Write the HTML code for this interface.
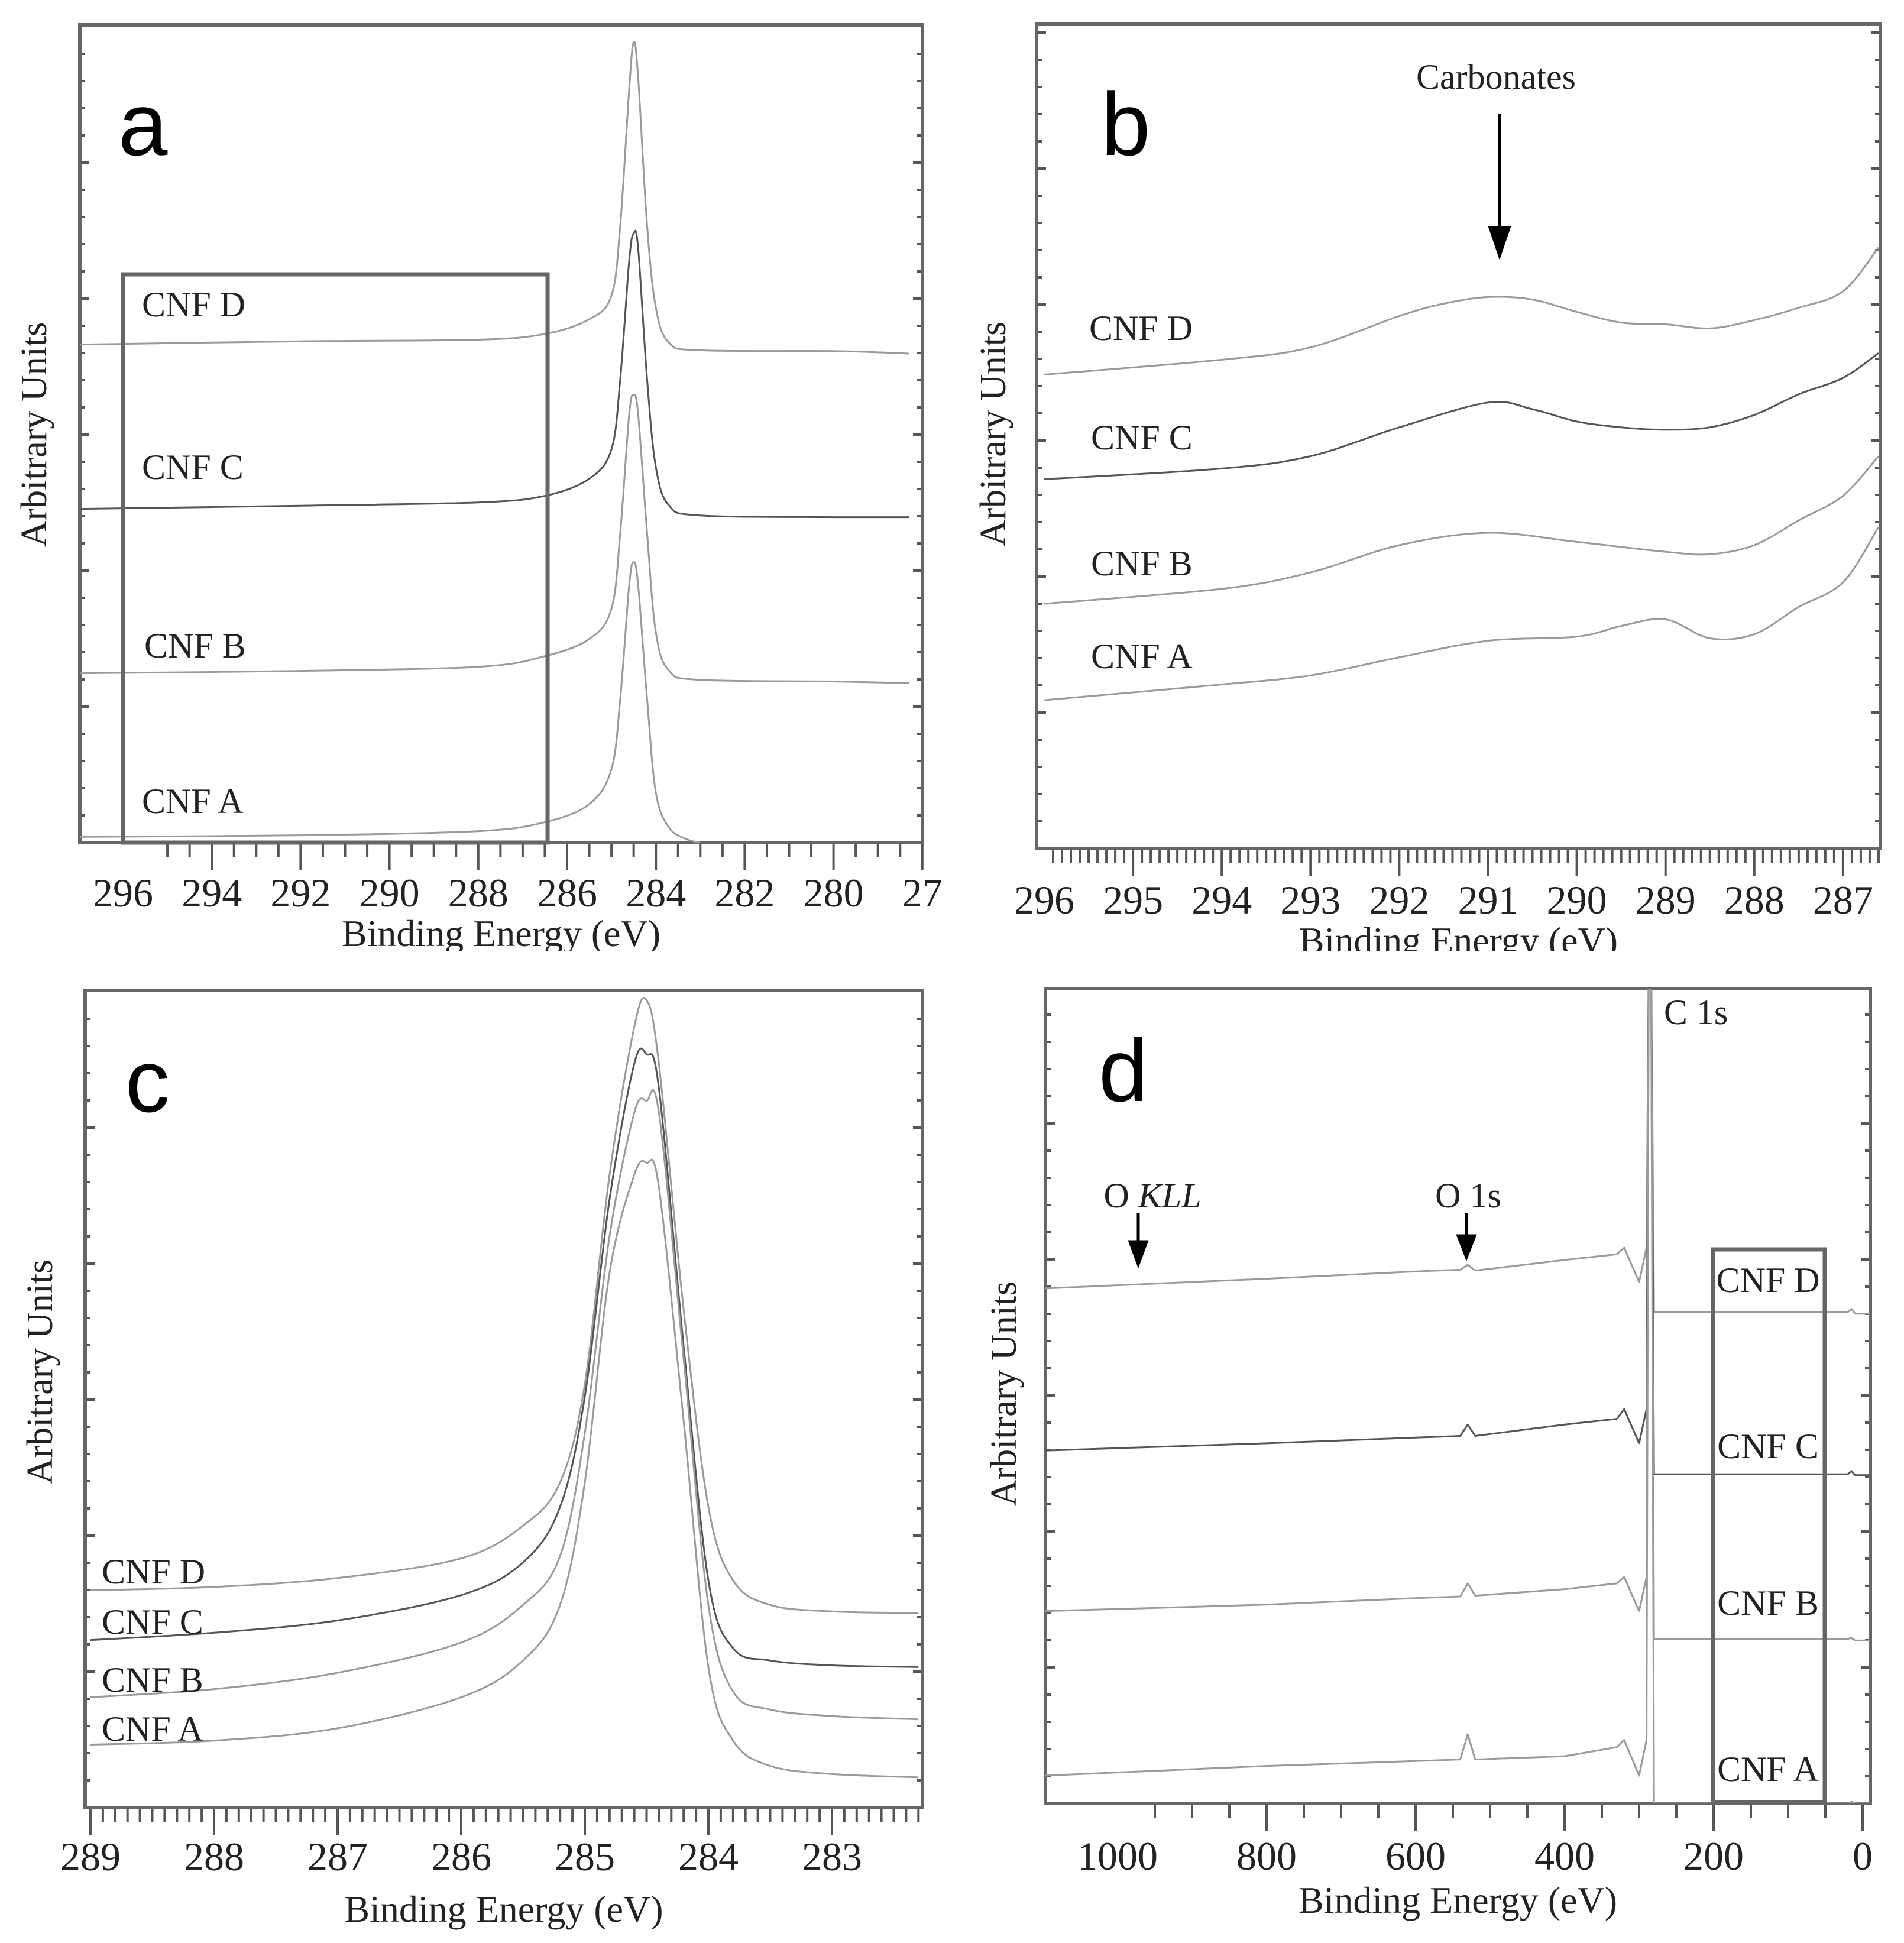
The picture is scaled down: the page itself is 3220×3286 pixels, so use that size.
<!DOCTYPE html>
<html><head><meta charset="utf-8"><style>
html,body{margin:0;padding:0;background:#fff;}
svg{display:block;}
text{font-family:"Liberation Serif",serif;fill:#222;}
.sans{font-family:"Liberation Sans",sans-serif;fill:#000;}
</style></head><body>
<svg id="fig" width="3220" height="3286" viewBox="0 0 3220 3286" xmlns="http://www.w3.org/2000/svg">
<defs>
<clipPath id="clipTop"><rect x="0" y="0" width="3220" height="1608"/></clipPath>
</defs>
<g id="root"></g>
</svg>
<script>
// ---------- Panel a data (C1s wide, arbitrary units 0-100) ----------
const aEnergiesD = [297,292,288,286.5,285.5,285,284.8,284.6,284.5,284.4,284.2,284,283.7,283,280,278.3];
const aValuesD = [60.9,61.3,61.5,62.2,64.0,66.9,75.6,92.2,97.9,93.6,75.6,65.4,61.1,60.2,60.1,59.8];
const aEnergiesC = [297,292,288,286.5,285.5,285,284.8,284.6,284.5,284.4,284.2,284,283.7,283,280,278.3];
const aValuesC = [40.8,41.2,41.6,42.4,44.5,48.1,56.8,71.2,74.5,72.7,56.8,45.9,41.2,40.0,39.8,39.8];
const aEnergiesB = [297,292,288,286.5,285.5,285,284.8,284.6,284.5,284.4,284.2,284,283.7,283,280,278.3];
const aValuesB = [20.7,21.0,21.5,22.8,24.9,28.6,38.0,52.4,54.7,52.4,38.0,25.7,21.0,19.9,19.7,19.5];
const aEnergiesA = [297,292,288,286.5,285.5,285,284.8,284.6,284.5,284.4,284.2,284,283.7,283.3,283];
const aValuesA = [0.7,0.9,1.4,2.5,4.7,9.0,17.7,31.5,34.3,31.5,17.7,6.1,1.8,0.4,0.0];
const aTickLabels = ["296","294","292","290","288","286","284","282","280","27"];
// ---------- Panel b data (carbonates region) ----------
const bEnergiesD = [296,294,293,292,291.5,291,290.5,290,289.5,289,288.5,288,287.5,287,286.6];
const bValuesD = [57.5,59.3,60.8,64.6,66.1,66.9,66.6,65.1,63.8,63.6,63.1,64.1,65.6,67.6,72.9];
const bEnergiesC = [296,294,293,292,291,290.5,290,289.5,289,288.5,288,287.5,287,286.6];
const bValuesC = [44.8,46.1,47.6,51.1,54.1,53.3,51.8,51.1,50.8,51.1,52.6,55.1,57.1,60.1];
const bEnergiesB = [296,294,293,292,291,290,289,288.5,288,287.5,287,286.6];
const bValuesB = [29.7,31.5,33.5,36.8,38.3,37.2,36.0,35.7,36.8,39.8,42.8,47.6];
const bEnergiesA = [296,294,293,292,291,290,289.5,289,288.5,288,287.5,287,286.6];
const bValuesA = [18.0,19.9,21.0,23.2,25.2,25.7,27.0,27.8,25.5,26.0,29.3,32.3,39.0];
const bTickLabels = ["296","295","294","293","292","291","290","289","288","287"];
// ---------- Panel c data (C1s zoom) ----------
const cEnergies = [289,288,287,286,285.5,285.2,285,284.8,284.6,284.5,284.4,284.2,284,283.8,283.5,283,282.3];
const cValuesD = [26.6,27.0,28.1,30.5,34.5,39.8,51.8,77.4,95.5,98.8,91.0,60.9,36.8,27.8,24.8,24.0,23.8];
const cValuesC = [20.5,21.4,22.9,26.0,30.0,36.8,50.3,74.4,91.0,92.2,88.0,56.4,27.8,19.5,18.0,17.4,17.2];
const cValuesB = [13.5,14.5,16.5,20.2,24.8,30.8,45.8,69.9,85.0,86.5,85.0,54.9,24.8,14.2,12.0,11.2,10.8];
const cValuesA = [7.7,8.2,9.7,13.5,18.0,24.8,39.8,65.4,77.4,78.9,75.9,47.3,17.2,8.2,5.1,4.1,3.7];
const cTickLabels = ["289","288","287","286","285","284","283"];
// ---------- Panel d data (survey) ----------
const dEnergies = [1100,800,600,540,530,520,400,330,320,300,290,287,284,280,20,15,10,-10];
const dValuesD = [63.2,64.4,65.3,65.5,66.1,65.4,66.7,67.4,68.2,64.0,68.2,105,105,60.3,60.3,60.7,60.1,60.1];
const dValuesC = [43.3,44.2,44.9,45.1,46.5,45.1,46.5,47.2,48.4,44.2,48.4,105,105,40.4,40.4,40.8,40.3,40.3];
const dValuesB = [23.6,24.4,25.2,25.4,27.0,25.5,26.3,27.0,27.8,23.6,27.8,105,105,20.2,20.2,20.3,20.0,20.0];
const dValuesA = [3.4,4.6,5.2,5.4,8.5,5.4,5.8,6.9,7.8,3.4,7.8,105,105,0.0,0.0,0.2,0.0,0.0];
const dTickLabels = ["1000","800","600","400","200","0"];

const NS = "http://www.w3.org/2000/svg";
const root = document.getElementById('root');
function el(tag, attrs, parent){
  const e = document.createElementNS(NS, tag);
  for (const k in attrs) e.setAttribute(k, attrs[k]);
  (parent||root).appendChild(e);
  return e;
}
function pathFrom(pts, smooth){
  if (!smooth) return pts.map((p,i)=>(i?'L':'M')+p[0].toFixed(1)+' '+p[1].toFixed(1)).join(' ');
  let d = 'M'+pts[0][0].toFixed(1)+' '+pts[0][1].toFixed(1);
  for (let i=0;i<pts.length-1;i++){
    const p0=pts[i-1]||pts[i], p1=pts[i], p2=pts[i+1], p3=pts[i+2]||p2;
    const t=0.5/3;
    const c1=[p1[0]+(p2[0]-p0[0])*t, p1[1]+(p2[1]-p0[1])*t];
    const c2=[p2[0]-(p3[0]-p1[0])*t, p2[1]-(p3[1]-p1[1])*t];
    d+=' C'+c1[0].toFixed(1)+' '+c1[1].toFixed(1)+' '+c2[0].toFixed(1)+' '+c2[1].toFixed(1)+' '+p2[0].toFixed(1)+' '+p2[1].toFixed(1);
  }
  return d;
}
function makePanel(cfg){
  const g = el('g', cfg.clip ? {'clip-path':'url(#clipTop)'} : {});
  
  
  const xs = e => cfg.x0 + (cfg.e0 - e) * cfg.ppe;
  const ys = v => cfg.bottom - v / 100 * (cfg.bottom - cfg.top);
  const cp = el('clipPath', {id:'plot-' + cfg.id}, g);
  el('rect', {x:cfg.left, y:cfg.top, width:cfg.right-cfg.left, height:cfg.bottom-cfg.top}, cp);
  const yt = el('g', {stroke:'#555','stroke-width':4}, g);
  
  
  for (let k = 1; cfg.bottom - k*46 > cfg.top + 5; k++){
    const y = cfg.bottom - k*46, len = (k % 5 === 0) ? 16 : 9;
    el('line', {x1:cfg.left, x2:cfg.left+len, y1:y, y2:y}, yt);
    el('line', {x1:cfg.right, x2:cfg.right-len, y1:y, y2:y}, yt);
  }
  const xt = el('g', {stroke:'#555','stroke-width':4}, g);
  
  
  const n = Math.round((cfg.e0 - cfg.eEnd) / cfg.minor);
  for (let i = -Math.ceil((cfg.e0 - cfg.eLeft)/cfg.minor); i <= n + 40; i++){
    const e = cfg.e0 - i * cfg.minor;
    const x = xs(e);
    if (x < cfg.left - 1 || x > cfg.right + 1) continue;
    const major = Math.abs(i % cfg.ratio) < 1e-6;
    el('line', {x1:x, x2:x, y1:cfg.bottom, y2:cfg.bottom + (major ? 47 : 25)}, xt);
  }
  cfg.labels.forEach((lab, i) => {
    const e = cfg.e0 - i * cfg.labelStep;
    const t = el('text', {x:xs(e), y:cfg.labelY, 'font-size':cfg.labelSize||68, 'text-anchor':'middle'}, g);
    t.textContent = lab;
    
    
  });
  const fr = el('rect', {x:cfg.left, y:cfg.top, width:cfg.right-cfg.left, height:cfg.bottom-cfg.top, fill:'none', stroke:'#666','stroke-width':6}, g);
  
  
  const sg = el('g', {'clip-path':'url(#plot-' + cfg.id + ')', fill:'none'}, g);
  cfg.series.forEach(s => {
    const pts = s.e.map((e, i) => [xs(e), ys(s.v[i])]);
    const p = el('path', {d:pathFrom(pts, cfg.smooth), stroke:s.color, 'stroke-width':3, 'stroke-linejoin':'round'}, sg);
    
    
  });
  const xtit = el('text', {x:(cfg.left+cfg.right)/2, y:cfg.titleY, 'font-size':64, 'text-anchor':'middle'}, g);
  xtit.textContent = 'Binding Energy (eV)';
  
  
  const ytit = el('text', {x:0, y:0, 'font-size':62, 'text-anchor':'middle', transform:'translate(' + cfg.yTitleX + ',' + cfg.yTitleY + ') rotate(-90)'}, g);
  ytit.textContent = 'Arbitrary Units';
  
  
  const pl = el('text', {x:cfg.letterX, y:cfg.letterY, 'font-size':150, 'class':'sans'}, g);
  pl.textContent = cfg.id;
  
  
  cfg.names.forEach(nm => {
    const t = el('text', {x:nm[1], y:nm[2], 'font-size':60, 'text-anchor':nm[3]||'start'}, g);
    t.textContent = nm[0];
    
    
  });
  return {g, xs, ys};
}
const light = '#9a9a9a', dark = '#555';
const pa = makePanel({id:'a', clip:true, smooth:true, left:135, right:1560, top:42, bottom:1425, x0:208, e0:296, ppe:75.1, eLeft:297, eEnd:278,
  minor:0.5, ratio:4, labelStep:2, labels:aTickLabels, labelY:1533, titleY:1600, yTitleX:78, yTitleY:735, letterX:200, letterY:262,
  series:[{name:'cnf-d',e:aEnergiesD,v:aValuesD,color:light},{name:'cnf-c',e:aEnergiesC,v:aValuesC,color:dark},
          {name:'cnf-b',e:aEnergiesB,v:aValuesB,color:light},{name:'cnf-a',e:aEnergiesA,v:aValuesA,color:light}],
  names:[['CNF D',240,535],['CNF C',240,810],['CNF B',244,1112],['CNF A',240,1375]]});
const boxA = el('rect', {x:208, y:464, width:718, height:961, fill:'none', stroke:'#666', 'stroke-width':7}, pa.g);


const pb = makePanel({id:'b', clip:true, smooth:true, left:1753, right:3180, top:41, bottom:1435, x0:1766, e0:296, ppe:150.1, eLeft:296.1, eEnd:286.5,
  minor:0.1, ratio:10, labelStep:1, labels:bTickLabels, labelY:1545, titleY:1612, yTitleX:1700, yTitleY:734, letterX:1862, letterY:262,
  series:[{name:'cnf-d',e:bEnergiesD,v:bValuesD,color:light},{name:'cnf-c',e:bEnergiesC,v:bValuesC,color:dark},
          {name:'cnf-b',e:bEnergiesB,v:bValuesB,color:light},{name:'cnf-a',e:bEnergiesA,v:bValuesA,color:light}],
  names:[['CNF D',1842,575],['CNF C',1845,760],['CNF B',1845,973],['CNF A',1845,1130]]});
const ct = el('text', {x:2530, y:150, 'font-size':60, 'text-anchor':'middle'}, pb.g);
ct.textContent = 'Carbonates';


const ca = el('path', {d:'M2536 193 L2536 400 M2520 385 L2536 432 L2552 385 Z', stroke:'#000', 'stroke-width':5, fill:'#000'}, pb.g);


const pc = makePanel({id:'c', clip:false, smooth:true, left:144, right:1560, top:1675, bottom:3057, x0:153, e0:289, ppe:209, eLeft:289.05, eEnd:282.2,
  minor:0.1, ratio:10, labelStep:1, labels:cTickLabels, labelY:3163, titleY:3250, yTitleX:88, yTitleY:2320, letterX:212, letterY:1880,
  series:[{name:'cnf-d',e:cEnergies,v:cValuesD,color:light},{name:'cnf-c',e:cEnergies,v:cValuesC,color:dark},
          {name:'cnf-b',e:cEnergies,v:cValuesB,color:light},{name:'cnf-a',e:cEnergies,v:cValuesA,color:light}],
  names:[['CNF D',172,2678],['CNF C',172,2763],['CNF B',172,2861],['CNF A',172,2944]]});
const pd = makePanel({id:'d', clip:false, smooth:false, left:1768, right:3163, top:1672, bottom:3050, x0:1890, e0:1000, ppe:1.26, eLeft:1097, eEnd:-10,
  minor:50, ratio:4, labelStep:200, labels:dTickLabels, labelY:3162, titleY:3235, yTitleX:1718, yTitleY:2357, letterX:1858, letterY:1862,
  series:[{name:'cnf-d',e:dEnergies,v:dValuesD,color:light},{name:'cnf-c',e:dEnergies,v:dValuesC,color:dark},
          {name:'cnf-b',e:dEnergies,v:dValuesB,color:light},{name:'cnf-a',e:dEnergies,v:dValuesA,color:light}],
  names:[['CNF D',2990,2185,'middle'],['CNF C',2990,2466,'middle'],['CNF B',2990,2731,'middle'],['CNF A',2990,3012,'middle']]});
const boxD = el('rect', {x:2897, y:2113, width:189, height:935, fill:'none', stroke:'#666', 'stroke-width':7}, pd.g);


const c1s = el('text', {x:2868, y:1732, 'font-size':60, 'text-anchor':'middle'}, pd.g);
c1s.textContent = 'C 1s';


const okll = el('text', {x:1949, y:2042, 'font-size':60, 'text-anchor':'middle'}, pd.g);
okll.innerHTML = 'O <tspan font-style="italic">KLL</tspan>';


const o1s = el('text', {x:2483, y:2042, 'font-size':60, 'text-anchor':'middle'}, pd.g);
o1s.textContent = 'O 1s';


const a1 = el('path', {d:'M1925 2052 L1925 2115 M1911 2100 L1925 2138 L1939 2100 Z', stroke:'#000','stroke-width':5, fill:'#000'}, pd.g);


const a2 = el('path', {d:'M2480 2052 L2480 2105 M2466 2090 L2480 2126 L2494 2090 Z', stroke:'#000','stroke-width':5, fill:'#000'}, pd.g);


</script>
</body></html>
